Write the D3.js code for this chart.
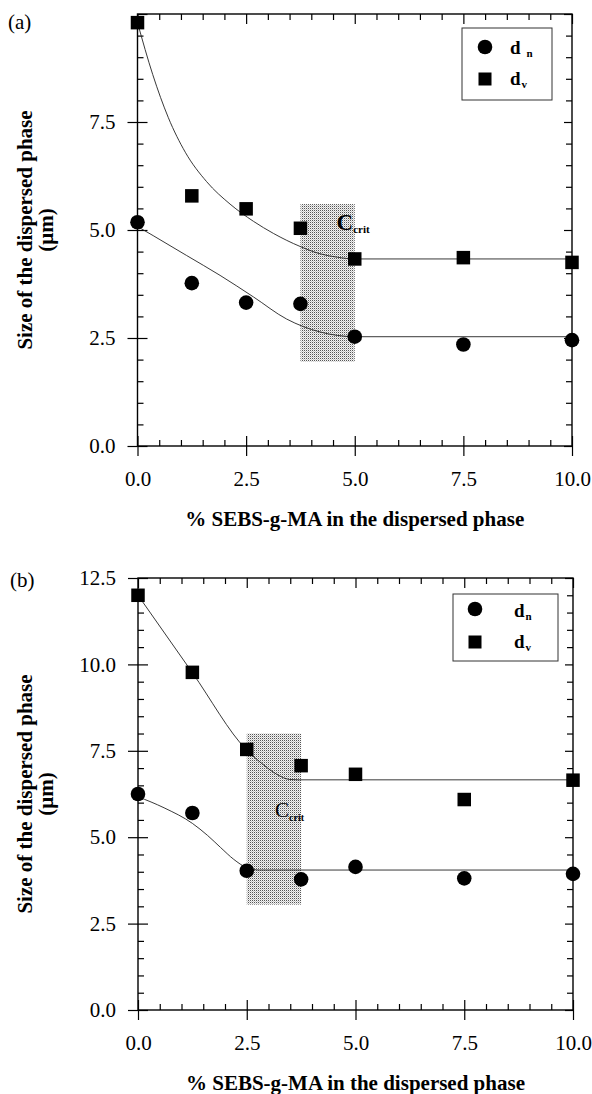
<!DOCTYPE html>
<html>
<head>
<meta charset="utf-8">
<script src="https://cdn.jsdelivr.net/npm/d3@7"></script>
<style>
  body { margin: 0; background: #fff; }
  svg text { font-family: "Liberation Serif", "DejaVu Serif", "Times New Roman", serif; fill: #000; }
  .axis line { stroke: #000; stroke-width: 1.2; }
  .axis text { font-size: 21px; }
</style>
</head>
<body>
<svg id="chart" width="592" height="1094"></svg>
<script>
const FONT = '"Liberation Serif", "DejaVu Serif", "Times New Roman", serif';

// % SEBS-g-MA in the dispersed phase
const sebsPct = [0, 1.25, 2.5, 3.75, 5, 7.5, 10];

// panel (a): particle sizes (um)
const dnA = [5.18, 3.77, 3.32, 3.29, 2.53, 2.35, 2.45];
const dvA = [9.80, 5.79, 5.49, 5.04, 4.33, 4.36, 4.25];
// hand-drawn guide curves in (a) as [x, y]
const fitDnA = [[0, 5.08], [0.36, 4.87], [1.13, 4.41], [1.9, 3.95], [2.67, 3.45], [3.43, 2.94], [4.2, 2.64], [4.6, 2.56], [5, 2.53], [10, 2.53]];
const fitDvA = [[0, 9.8], [0.35, 8.6], [0.71, 7.6], [1.1, 6.8], [1.59, 6.12], [2.13, 5.6], [2.67, 5.2], [3.13, 4.92], [3.74, 4.62], [4.2, 4.45], [4.6, 4.37], [5, 4.33], [10, 4.33]];

// panel (b)
const dnB = [6.25, 5.70, 4.03, 3.78, 4.14, 3.81, 3.94];
const dvB = [12.00, 9.77, 7.54, 7.07, 6.82, 6.09, 6.65];
const fitDnB = [[0, 6.17], [0.6, 5.85], [1.25, 5.4], [1.6, 5.05], [1.9, 4.7], [2.2, 4.36], [2.5, 4.12], [2.8, 4.05], [10, 4.05]];
const fitDvB = [[0, 12.0], [1.25, 9.76], [2.5, 7.52], [2.88, 7.1], [3.19, 6.82], [3.49, 6.67], [3.7, 6.66], [10, 6.66]];

// tick labels
const xTickLabels = [0, 2.5, 5, 7.5, 10];
const yTickLabelsA = [0, 2.5, 5, 7.5];
const yTickLabelsB = [0, 2.5, 5, 7.5, 10, 12.5];

const svg = d3.select('#chart');

// stippled fill for the critical-concentration band
const pat = svg.append('defs').append('pattern')
    .attr('id', 'stipple')
    .attr('patternUnits', 'userSpaceOnUse')
    .attr('width', 2).attr('height', 2);
pat.append('rect').attr('width', 2).attr('height', 2).attr('fill', '#f4f4f4');
pat.append('rect').attr('width', 1).attr('height', 1).attr('fill', '#555');
pat.append('rect').attr('x', 1).attr('y', 1).attr('width', 1).attr('height', 1).attr('fill', '#c4c4c4');

class Panel {
    constructor(_config, _dn, _dv, _fitDn, _fitDv) {
        this.config = _config;
        this.dn = _dn;
        this.dv = _dv;
        this.fitDn = _fitDn;
        this.fitDv = _fitDv;
        this.initVis();
        this.renderVis();
    }

    initVis() {
        let vis = this;
        const c = vis.config;

        vis.xScale = d3.scaleLinear().domain([0, 10]).range([c.left, c.right]);
        vis.yScale = d3.scaleLinear().domain([0, c.yMax]).range([c.bottom, c.top]);

        vis.g = svg.append('g');

        const xMajor = d3.range(0, 10.01, 2.5);
        const xMinor = d3.range(0.5, 10, 0.5).filter(v => v % 2.5 !== 0);
        const yMajor = d3.range(0, c.yMax + 0.01, 2.5);
        const yMinor = d3.range(0.5, c.yMax, 0.5).filter(v => v % 2.5 !== 0);

        const addAxis = (gen, tx, ty) => {
            vis.g.append('g')
                .attr('class', 'axis')
                .attr('transform', `translate(${tx},${ty})`)
                .call(gen)
                .attr('font-family', FONT)
                .attr('font-size', 21)
                .call(s => s.select('.domain').remove());
        };

        // labelled ticks, outward part
        addAxis(d3.axisBottom(vis.xScale).tickValues(xTickLabels).tickSize(10).tickPadding(15)
            .tickFormat(d3.format('.1f')), 0, c.bottom);
        addAxis(d3.axisLeft(vis.yScale).tickValues(c.yLabels).tickSize(10).tickPadding(12)
            .tickFormat(d3.format('.1f')), c.left, 0);

        // inward ticks on all four sides
        addAxis(d3.axisBottom(vis.xScale).tickValues(xMajor).tickSize(-10).tickFormat(''), 0, c.bottom);
        addAxis(d3.axisBottom(vis.xScale).tickValues(xMinor).tickSize(-6).tickFormat(''), 0, c.bottom);
        addAxis(d3.axisTop(vis.xScale).tickValues(xMajor).tickSize(-10).tickFormat(''), 0, c.top);
        addAxis(d3.axisTop(vis.xScale).tickValues(xMinor).tickSize(-6).tickFormat(''), 0, c.top);
        addAxis(d3.axisLeft(vis.yScale).tickValues(yMajor).tickSize(-10).tickFormat(''), c.left, 0);
        addAxis(d3.axisLeft(vis.yScale).tickValues(yMinor).tickSize(-6).tickFormat(''), c.left, 0);
        addAxis(d3.axisRight(vis.yScale).tickValues(yMajor).tickSize(-8).tickFormat(''), c.right, 0);
        addAxis(d3.axisRight(vis.yScale).tickValues(yMinor).tickSize(-6).tickFormat(''), c.right, 0);

        // Frame
        vis.g.append('rect')
            .attr('x', c.left).attr('y', c.top)
            .attr('width', c.right - c.left).attr('height', c.bottom - c.top)
            .attr('fill', 'none').attr('stroke', '#000').attr('stroke-width', 1.4);

        // Panel tag
        vis.g.append('text')
            .attr('x', c.tag.x).attr('y', c.tag.y)
            .style('font-family', FONT)
            .style('font-size', '21px')
            .text(c.tag.text);

        // Y-Axis title (two lines)
        const midY = (c.top + c.bottom) / 2;
        vis.g.append('text')
            .attr('transform', `translate(32,${midY}) rotate(-90)`)
            .attr('text-anchor', 'middle')
            .style('font-family', FONT)
            .style('font-weight', 'bold').style('font-size', '21px')
            .text('Size of the dispersed phase');
        vis.g.append('text')
            .attr('transform', `translate(53,${midY}) rotate(-90)`)
            .attr('text-anchor', 'middle')
            .style('font-family', FONT)
            .style('font-weight', 'bold').style('font-size', '21px')
            .text('(\u03bcm)');

        // X-Axis title
        vis.g.append('text')
            .attr('x', (c.left + c.right) / 2)
            .attr('y', c.bottom + 80)
            .attr('text-anchor', 'middle')
            .style('font-family', FONT)
            .style('font-weight', 'bold').style('font-size', '21px')
            .text('% SEBS-g-MA in the dispersed phase');
    }

    renderVis() {
        let vis = this;
        const c = vis.config;
        const x = vis.xScale, y = vis.yScale;

        // Shaded band around C_crit
        vis.g.insert('rect', ':first-child')
            .attr('x', x(c.band.x0)).attr('y', y(c.band.y1))
            .attr('width', x(c.band.x1) - x(c.band.x0))
            .attr('height', y(c.band.y0) - y(c.band.y1))
            .attr('fill', 'url(#stipple)');

        const line = d3.line()
            .x(d => x(d[0]))
            .y(d => y(d[1]))
            .curve(d3.curveMonotoneX);

        vis.g.selectAll('.fit')
            .data([vis.fitDn, vis.fitDv])
            .join('path')
            .attr('class', 'fit')
            .attr('d', line)
            .attr('fill', 'none')
            .attr('stroke', '#222')
            .attr('stroke-width', 0.9);

        const pts = sebsPct.map((p, i) => ({ p, dn: vis.dn[i], dv: vis.dv[i] }));
        const side = 13.5;

        vis.g.selectAll('.dn')
            .data(pts)
            .join('circle')
            .attr('class', 'dn')
            .attr('cx', d => x(d.p))
            .attr('cy', d => y(d.dn))
            .attr('r', 7.3)
            .attr('fill', '#000');

        vis.g.selectAll('.dv')
            .data(pts)
            .join('rect')
            .attr('class', 'dv')
            .attr('x', d => x(d.p) - side / 2)
            .attr('y', d => y(d.dv) - side / 2)
            .attr('width', side).attr('height', side)
            .attr('fill', '#000');

        // C_crit annotation
        const crit = vis.g.append('text')
            .attr('x', x(c.crit.x)).attr('y', y(c.crit.y))
            .style('font-family', FONT)
            .style('font-weight', c.crit.bold ? 'bold' : 'normal')
            .style('font-size', c.crit.size + 'px');
        crit.append('tspan').text('C');
        crit.append('tspan').attr('dy', c.crit.subDy)
            .style('font-size', c.crit.subSize + 'px').style('font-weight', 'bold')
            .text('crit');

        // Legend
        const L = c.legend;
        vis.g.append('rect')
            .attr('x', L.x).attr('y', L.y).attr('width', L.w).attr('height', L.h)
            .attr('fill', '#fff').attr('stroke', '#333').attr('stroke-width', 1);
        vis.g.append('circle').attr('cx', L.mx).attr('cy', L.rows[0]).attr('r', 7.3).attr('fill', '#000');
        vis.g.append('rect')
            .attr('x', L.mx - 6.5).attr('y', L.rows[1] - 6.5)
            .attr('width', 13).attr('height', 13).attr('fill', '#000');
        ['n', 'v'].forEach((sub, i) => {
            const t = vis.g.append('text')
                .attr('x', L.tx).attr('y', L.base[i])
                .style('font-family', FONT)
                .style('font-weight', 'bold').style('font-size', '19px');
            t.append('tspan').text('d');
            t.append('tspan').attr('dx', L.subDx[i]).attr('dy', 3)
                .style('font-size', '11px').text(sub);
        });
    }
}

new Panel({
    left: 137.5, right: 572, top: 14, bottom: 446, yMax: 10,
    yLabels: yTickLabelsA,
    tag: { text: '(a)', x: 8, y: 29 },
    band: { x0: 3.75, x1: 5, y0: 1.95, y1: 5.6 },
    crit: { x: 4.58, y: 5.0, size: 23, bold: true, subSize: 11, subDy: 3 },
    legend: { x: 462, y: 28, w: 90, h: 72, mx: 485, rows: [47, 79], tx: 510, base: [54, 85], subDx: [6, 1] }
}, dnA, dvA, fitDnA, fitDvA);

new Panel({
    left: 138, right: 573, top: 578, bottom: 1010, yMax: 12.5,
    yLabels: yTickLabelsB,
    tag: { text: '(b)', x: 10, y: 587 },
    band: { x0: 2.5, x1: 3.75, y0: 3.05, y1: 8.0 },
    crit: { x: 3.15, y: 5.58, size: 21, bold: false, subSize: 10, subDy: 4 },
    legend: { x: 453, y: 594, w: 105, h: 67, mx: 475, rows: [609, 642], tx: 514, base: [617, 648], subDx: [1, 1] }
}, dnB, dvB, fitDnB, fitDvB);
</script>
</body>
</html>
